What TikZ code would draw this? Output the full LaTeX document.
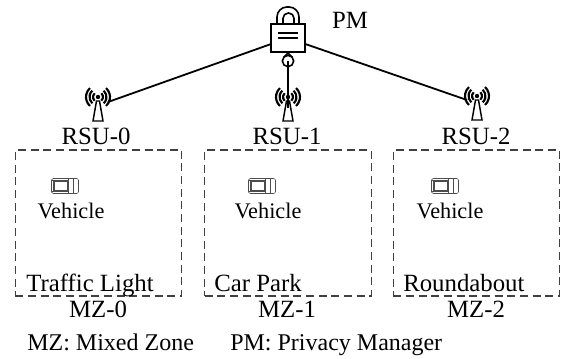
\documentclass[tikz,border=0pt]{standalone}
\usepackage{fontspec}
\setmainfont{Liberation Serif}
\usepackage{tikz}

\tikzset{
	bigtext/.style={inner sep=0pt,font=\fontsize{18.6}{20}\selectfont},
	smalltext/.style={inner sep=0pt,font=\fontsize{16.7}{18}\selectfont},
	legendtext/.style={inner sep=0pt,font=\fontsize{18}{20}\selectfont},
	zonebox/.style={draw=black!75,dashed,line width=0.9pt,dash pattern=on 6pt off 3.5pt,minimum width=125pt,minimum height=109.5pt,inner sep=0pt},
	link/.style={-,line width=1.35pt},
	antenna/.pic={
		\fill (0,0) circle (2.2);
		\draw[line width=1.1pt] (-5,24) -- (-1.5,4) -- (1.5,4) -- (5,24) -- cycle;
		\foreach \r in {5,8.5,12}{
			\draw[line width=1.6pt] (-48:\r) arc (-48:48:\r);
			\draw[line width=1.6pt] (132:\r) arc (132:228:\r);
		}
	},
	car/.pic={
		\draw[black!70,rounded corners=1.5pt] (-13.5,-7.5) rectangle (13.5,7.5);
		\draw[black!70,thick] (-11,-5) rectangle (3,5);
		\draw[black!70] (3,-7.5) -- (3,7.5) (8,-7.5) -- (8,7.5);
		\draw[black!70,thick] (-13.5,-6) -- (-11,-5) (-13.5,6) -- (-11,5);
	}
}

\begin{document}
\begin{tikzpicture}[x=0.75pt,y=-0.75pt]
	\useasboundingbox (0,0) rectangle (563,358);

	% privacy manager
	\node[draw=black,line width=1.3pt,minimum width=25pt,minimum height=21pt,inner sep=0pt] (pm) at (288,38) {};
	\node[draw=black,circle,line width=1.2pt,minimum size=8.5pt,inner sep=0pt] (key) at (288,61) {};
	\draw[line width=1.2pt] (284,57) -- (288,53) -- (292,57);
	\draw[line width=1.2pt,rounded corners=7.5pt] (277,24) -- (277,7) -- (299,7) -- (299,24);
	\draw[line width=1.2pt,rounded corners=4pt] (283,24) -- (283,13) -- (294,13) -- (294,24);
	\draw[line width=1.2pt] (278,33) -- (298,33) (278,38) -- (298,38);
	\node[bigtext] (pmlabel) at (350,20) {PM};

	% road side units
	\pic at (98,97) {antenna};
	\pic at (288,97) {antenna};
	\pic at (477,96) {antenna};
	\coordinate (rsu0) at (108,102);
	\coordinate (rsu1) at (288,108);
	\coordinate (rsu2) at (467,100);
	\node[bigtext] (rsu0label) at (96,136) {RSU-0};
	\node[bigtext] (rsu1label) at (287,136) {RSU-1};
	\node[bigtext] (rsu2label) at (476,136) {RSU-2};

	\path[link] (pm) edge (rsu0);
	\path[link] (pm) edge (rsu2);
	\path[link] (key.center) edge (rsu1);

	% mixed zones
	\node[zonebox] (zone0) at (98.5,223) {};
	\node[zonebox] (zone1) at (288,223) {};
	\node[zonebox] (zone2) at (476.5,223) {};

	\pic at (65,186) {car};
	\pic at (262,186) {car};
	\pic at (445,186) {car};
	\node[smalltext] (veh0) at (71,211) {Vehicle};
	\node[smalltext] (veh1) at (268,211) {Vehicle};
	\node[smalltext] (veh2) at (450,211) {Vehicle};

	\node[bigtext,anchor=base west] (place0) at (26,291) {Traffic Light};
	\node[bigtext,anchor=base west] (place1) at (214,291) {Car Park};
	\node[bigtext,anchor=base west] (place2) at (403,291) {Roundabout};

	\node[bigtext] (mz0) at (98,309) {MZ-0};
	\node[bigtext] (mz1) at (287,309) {MZ-1};
	\node[bigtext] (mz2) at (476,309) {MZ-2};

	% legend
	\node[legendtext,anchor=base west] (legend0) at (27,350) {MZ: Mixed Zone};
	\node[legendtext,anchor=base west] (legend1) at (230,350) {PM: Privacy Manager};

\end{tikzpicture}
\end{document}
